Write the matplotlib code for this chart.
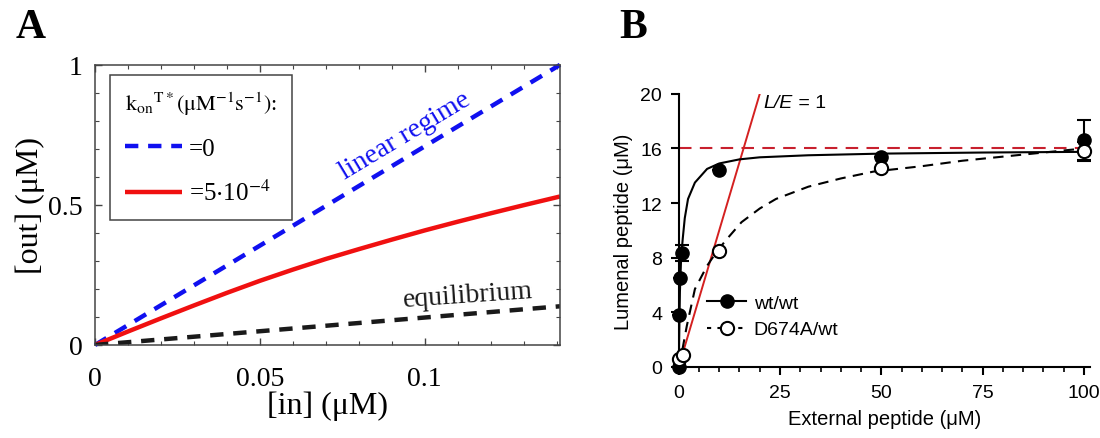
import matplotlib
matplotlib.use('Agg')
import matplotlib.pyplot as plt
from matplotlib.ticker import MultipleLocator
from matplotlib.lines import Line2D

plt.rcParams['mathtext.fontset'] = 'stix'

# ---- panel A data ----
a_lin_x = [0, 0.141]
a_lin_y = [0, 1.0]
a_red_x = [0, 0.01, 0.02, 0.03, 0.04, 0.05, 0.06, 0.07, 0.08, 0.09, 0.10, 0.11, 0.12, 0.13, 0.141]
a_red_y = [0, 0.048, 0.095, 0.141, 0.186, 0.229, 0.269, 0.307, 0.342, 0.376, 0.409, 0.440, 0.470, 0.499, 0.53]
a_eq_x = [0, 0.141]
a_eq_y = [0, 0.138]
a_xticks = [0, 0.05, 0.1]
a_xticklabels = ['0', '0.05', '0.1']
a_yticks = [0, 0.5, 1]
a_yticklabels = ['0', '0.5', '1']

# ---- panel B data ----
wt_x = [0, 0, 0.25, 0.8, 10, 50, 100]
wt_y = [0, 3.8, 6.5, 8.35, 14.4, 15.4, 16.6]
wt_err = [0, 0, 0, 0.6, 0, 0, 1.5]
mut_x = [0, 1, 10, 50, 100]
mut_y = [0.6, 0.85, 8.5, 14.6, 15.8]
mut_err = [0, 0, 0, 0, 0.65]
wt_fit_x = [0, 0.3, 0.6, 1, 1.5, 2.3, 4, 7, 10, 15, 20, 32, 50, 75, 100]
wt_fit_y = [0, 5.5, 8.0, 9.4, 10.9, 12.3, 13.5, 14.5, 14.9, 15.2, 15.35, 15.5, 15.62, 15.7, 15.75]
mut_fit_x = [0, 1, 2, 4, 7, 9.5, 12, 15.5, 20, 24, 32, 40, 48, 60, 70, 85, 100]
mut_fit_y = [0, 1.4, 3.0, 5.7, 7.4, 8.5, 9.4, 10.6, 11.6, 12.3, 13.2, 13.8, 14.3, 14.7, 15.1, 15.55, 16.0]
ident_x = [0, 20]
ident_y = [0, 20]
plateau = 16
b_xticks = [0, 25, 50, 75, 100]
b_yticks = [0, 4, 8, 12, 16, 20]

fig = plt.figure(figsize=(11, 4.39), dpi=100)

# ================= panel A =================
serif = 'Liberation Serif'
axA = fig.add_axes([0.0864, 0.212, 0.4227, 0.638])
axA.plot(a_lin_x, a_lin_y, color='#1010f0', lw=3.2, dashes=(3.0, 2.2), label='=0', clip_on=False)
axA.plot(a_red_x, a_red_y, color='#f01010', lw=3.2, solid_capstyle='butt', label=r'=5$\cdot$10$^{-4}$')
axA.plot(a_eq_x, a_eq_y, color='#1a1a1a', lw=3.2, dashes=(3.0, 2.2))
axA.set_xlim(0, 0.141)
axA.set_ylim(0, 1)
axA.set_xticks(a_xticks)
axA.set_xticklabels(a_xticklabels)
axA.set_yticks(a_yticks)
axA.set_yticklabels(a_yticklabels)
axA.xaxis.set_minor_locator(MultipleLocator(0.01))
axA.yaxis.set_minor_locator(MultipleLocator(0.1))
axA.tick_params(which='both', direction='in', top=True, right=True, color='#444444')
axA.tick_params(which='major', length=5, width=1)
axA.tick_params(which='minor', length=3, width=0.8)
axA.tick_params(axis='x', pad=15)
axA.tick_params(axis='y', pad=9)
for lab in axA.get_xticklabels() + axA.get_yticklabels():
    lab.set_fontfamily(serif)
    lab.set_fontsize(20)
for sp in axA.spines.values():
    sp.set_color('#444444')
    sp.set_linewidth(1.1)
axA.set_xlabel('[in] (μM)', family=serif, fontsize=23, labelpad=0)
axA.set_ylabel('[out] (μM)', family=serif, fontsize=23, labelpad=2)
axA.text(0.094, 0.748, 'linear regime', color='#1010f0', family=serif, fontsize=20,
         rotation=31, ha='center', va='center')
axA.text(0.113, 0.178, 'equilibrium', color='#1a1a1a', family=serif, fontsize=20,
         rotation=4, ha='center', va='center')
legA = axA.legend(title=r'$\mathrm{k_{on}}^{\mathrm{T*}}\mathrm{(\mu M^{-1}s^{-1})}$:',
                  loc='upper left', bbox_to_anchor=(0.032, 0.964), borderaxespad=0,
                  fancybox=False, edgecolor='#444444', framealpha=1,
                  prop={'family': serif, 'size': 18}, title_fontsize=16,
                  handlelength=2.3, handletextpad=0.25, labelspacing=0.8,
                  borderpad=0.6, alignment='left')
legA.get_frame().set_linewidth(1.1)
legA.get_title().set_fontfamily(serif)
fig.text(0.014, 0.98, 'A', family=serif, fontweight='bold', fontsize=30, va='top')

# ================= panel B =================
sans = 'Liberation Sans'
axB = fig.add_axes([0.617, 0.162, 0.374, 0.622])
axB.plot([0, 100], [plateau, plateau], color='#c8202e', lw=1.5, dashes=(6, 4))
axB.plot(ident_x, ident_y, color='#d42020', lw=1.4)
axB.plot(wt_fit_x, wt_fit_y, color='black', lw=1.5)
axB.plot(mut_fit_x, mut_fit_y, color='black', lw=1.5, dashes=(5, 3.5))
axB.errorbar(wt_x, wt_y, yerr=wt_err, fmt='o', color='black', ms=9.5, capsize=5,
             elinewidth=1.5, capthick=1.5, clip_on=False, zorder=4)
axB.errorbar(mut_x, mut_y, yerr=mut_err, fmt='o', color='black', mfc='white', mec='black',
             mew=1.5, ms=9.5, capsize=5, elinewidth=1.5, capthick=1.5, clip_on=False, zorder=5)
axB.set_xlim(0, 101.5)
axB.set_ylim(0, 20)
axB.set_xticks(b_xticks)
axB.set_yticks(b_yticks)
axB.xaxis.set_minor_locator(MultipleLocator(5))
axB.spines['top'].set_visible(False)
axB.spines['right'].set_visible(False)
for sp in ['left', 'bottom']:
    axB.spines[sp].set_linewidth(1.5)
axB.tick_params(which='major', direction='out', length=6, width=1.5, pad=6)
axB.tick_params(which='minor', direction='out', length=3.5, width=1.2)
for lab in axB.get_xticklabels() + axB.get_yticklabels():
    lab.set_fontfamily(sans)
    lab.set_fontsize(14)
axB.set_xlabel('External peptide (μM)', family=sans, fontsize=14.5, labelpad=6)
axB.set_ylabel('Lumenal peptide (μM)', family=sans, fontsize=14.5, labelpad=5)
t = axB.text(21.0, 19.4, 'L/E', family=sans, fontstyle='italic', fontsize=14, va='center')
axB.annotate(' = 1', xy=(1, 0.5), xycoords=t, va='center', family=sans, fontsize=14)
handles = [Line2D([], [], color='black', lw=1.5, marker='o', ms=9.5),
           Line2D([], [], color='black', lw=1.5, dashes=(2, 3), marker='o', ms=9.5,
                  mfc='white', mew=1.5)]
axB.legend(handles, ['wt/wt', 'D674A/wt'], loc='upper left', bbox_to_anchor=(7.0, 5.3),
           bbox_transform=axB.transData, frameon=False, borderaxespad=0, borderpad=0,
           prop={'family': sans, 'size': 14}, handlelength=2.0, handletextpad=0.4,
           labelspacing=0.45)
fig.text(0.563, 0.98, 'B', family=serif, fontweight='bold', fontsize=30, va='top')

fig.savefig('out.png', dpi=100)
